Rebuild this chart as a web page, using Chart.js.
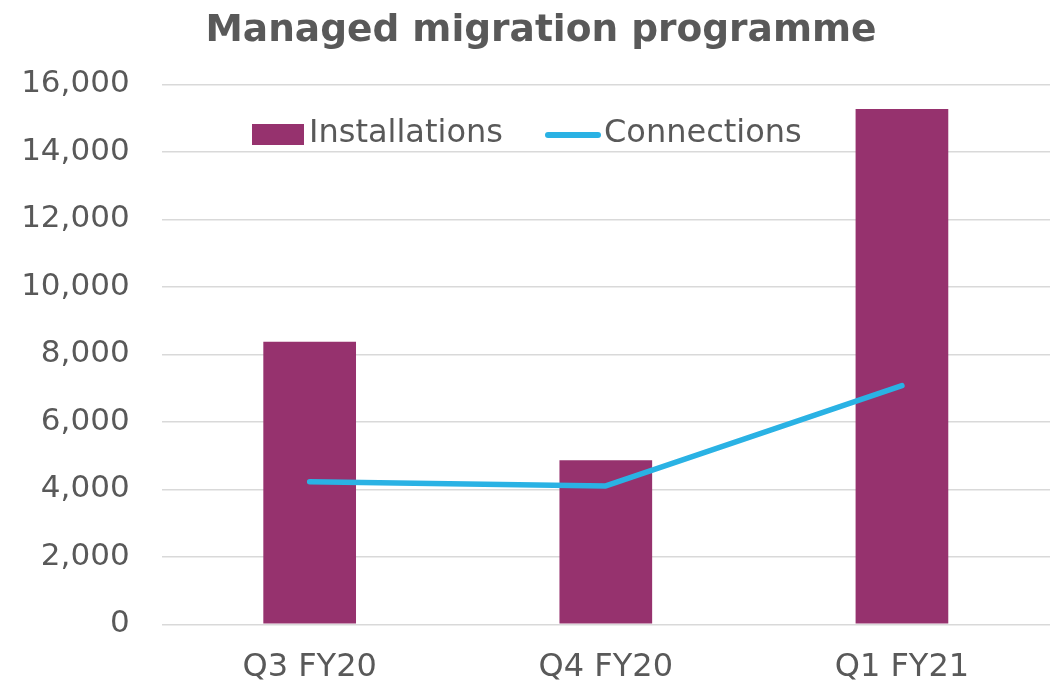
<!DOCTYPE html>
<html>
<head>
<meta charset="utf-8">
<script src="https://cdn.jsdelivr.net/npm/chart.js@4/dist/chart.umd.min.js"></script>
<style>
  html, body { margin: 0; padding: 0; background: #ffffff; }
  #wrap { width: 1058px; height: 683px; position: relative; }
</style>
</head>
<body>
<div id="wrap"><canvas id="c" width="1058" height="683"></canvas></div>
<script>
const categories = ["Q3 FY20", "Q4 FY20", "Q1 FY21"];
const installations = [8370, 4860, 15270];
const connections = [4225, 4100, 7070];
const yTicks = [0, 2000, 4000, 6000, 8000, 10000, 12000, 14000, 16000];
const titleText = "Managed migration programme";
const seriesNames = ["Installations", "Connections"];

const PURPLE = "#96326E";
const BLUE = "#2AB2E4";
const TEXT = "#595959";
const FONT = "'DejaVu Sans', Verdana, sans-serif";

const titleAndLegend = {
  id: "titleAndLegend",
  afterDraw(chart) {
    const ctx = chart.ctx;
    ctx.save();
    // title
    ctx.font = "bold 37.5px " + FONT;
    ctx.fillStyle = TEXT;
    ctx.textAlign = "center";
    ctx.textBaseline = "alphabetic";
    ctx.fillText(titleText, 541, 40.5);

    // legend
    const barDs = chart.data.datasets.find(d => d.type === "bar");
    const lineDs = chart.data.datasets.find(d => d.type === "line");
    ctx.font = "32px " + FONT;
    ctx.textAlign = "left";
    ctx.textBaseline = "middle";
    const y = 134;
    ctx.fillStyle = barDs.backgroundColor;
    ctx.fillRect(252, 124, 52, 21);
    ctx.fillStyle = TEXT;
    ctx.fillText(barDs.label, 309, y);
    ctx.strokeStyle = lineDs.borderColor;
    ctx.lineWidth = 6;
    ctx.lineCap = "round";
    ctx.beginPath();
    ctx.moveTo(548, 135);
    ctx.lineTo(598, 135);
    ctx.stroke();
    ctx.fillStyle = TEXT;
    ctx.fillText(lineDs.label, 604, y);
    ctx.restore();
  }
};

new Chart(document.getElementById("c"), {
  data: {
    labels: categories,
    datasets: [
      {
        type: "line",
        label: seriesNames[1],
        data: connections,
        borderColor: BLUE,
        backgroundColor: BLUE,
        borderWidth: 5.5,
        borderCapStyle: "round",
        borderJoinStyle: "round",
        pointRadius: 0,
        tension: 0,
        order: 0
      },
      {
        type: "bar",
        label: seriesNames[0],
        data: installations,
        backgroundColor: PURPLE,
        barPercentage: 0.313,
        categoryPercentage: 1.0,
        order: 1
      }
    ]
  },
  options: {
    responsive: false,
    animation: false,
    devicePixelRatio: 1,
    layout: { padding: { left: 0, right: 8, top: 84.3, bottom: 0 } },
    plugins: {
      legend: { display: false },
      tooltip: { enabled: false },
      title: { display: false }
    },
    scales: {
      x: {
        grid: { display: false, drawTicks: false },
        border: { display: false },
        ticks: {
          color: TEXT,
          font: { family: FONT, size: 32 },
          padding: 24,
          maxRotation: 0
        },
        afterFit(scale) { scale.height = 58.7; }
      },
      y: {
        min: 0,
        max: 16000,
        afterBuildTicks(scale) { scale.ticks = yTicks.map(v => ({ value: v })); },
        grid: { color: "#d9d9d9", lineWidth: 1.5, drawTicks: false },
        border: { display: false },
        ticks: {
          color: TEXT,
          font: { family: FONT, size: 31 },
          padding: 32,
          callback: v => Number(v).toLocaleString("en-US")
        },
        afterFit(scale) { scale.width = 161.6; }
      }
    }
  },
  plugins: [titleAndLegend]
});
</script>
</body>
</html>
